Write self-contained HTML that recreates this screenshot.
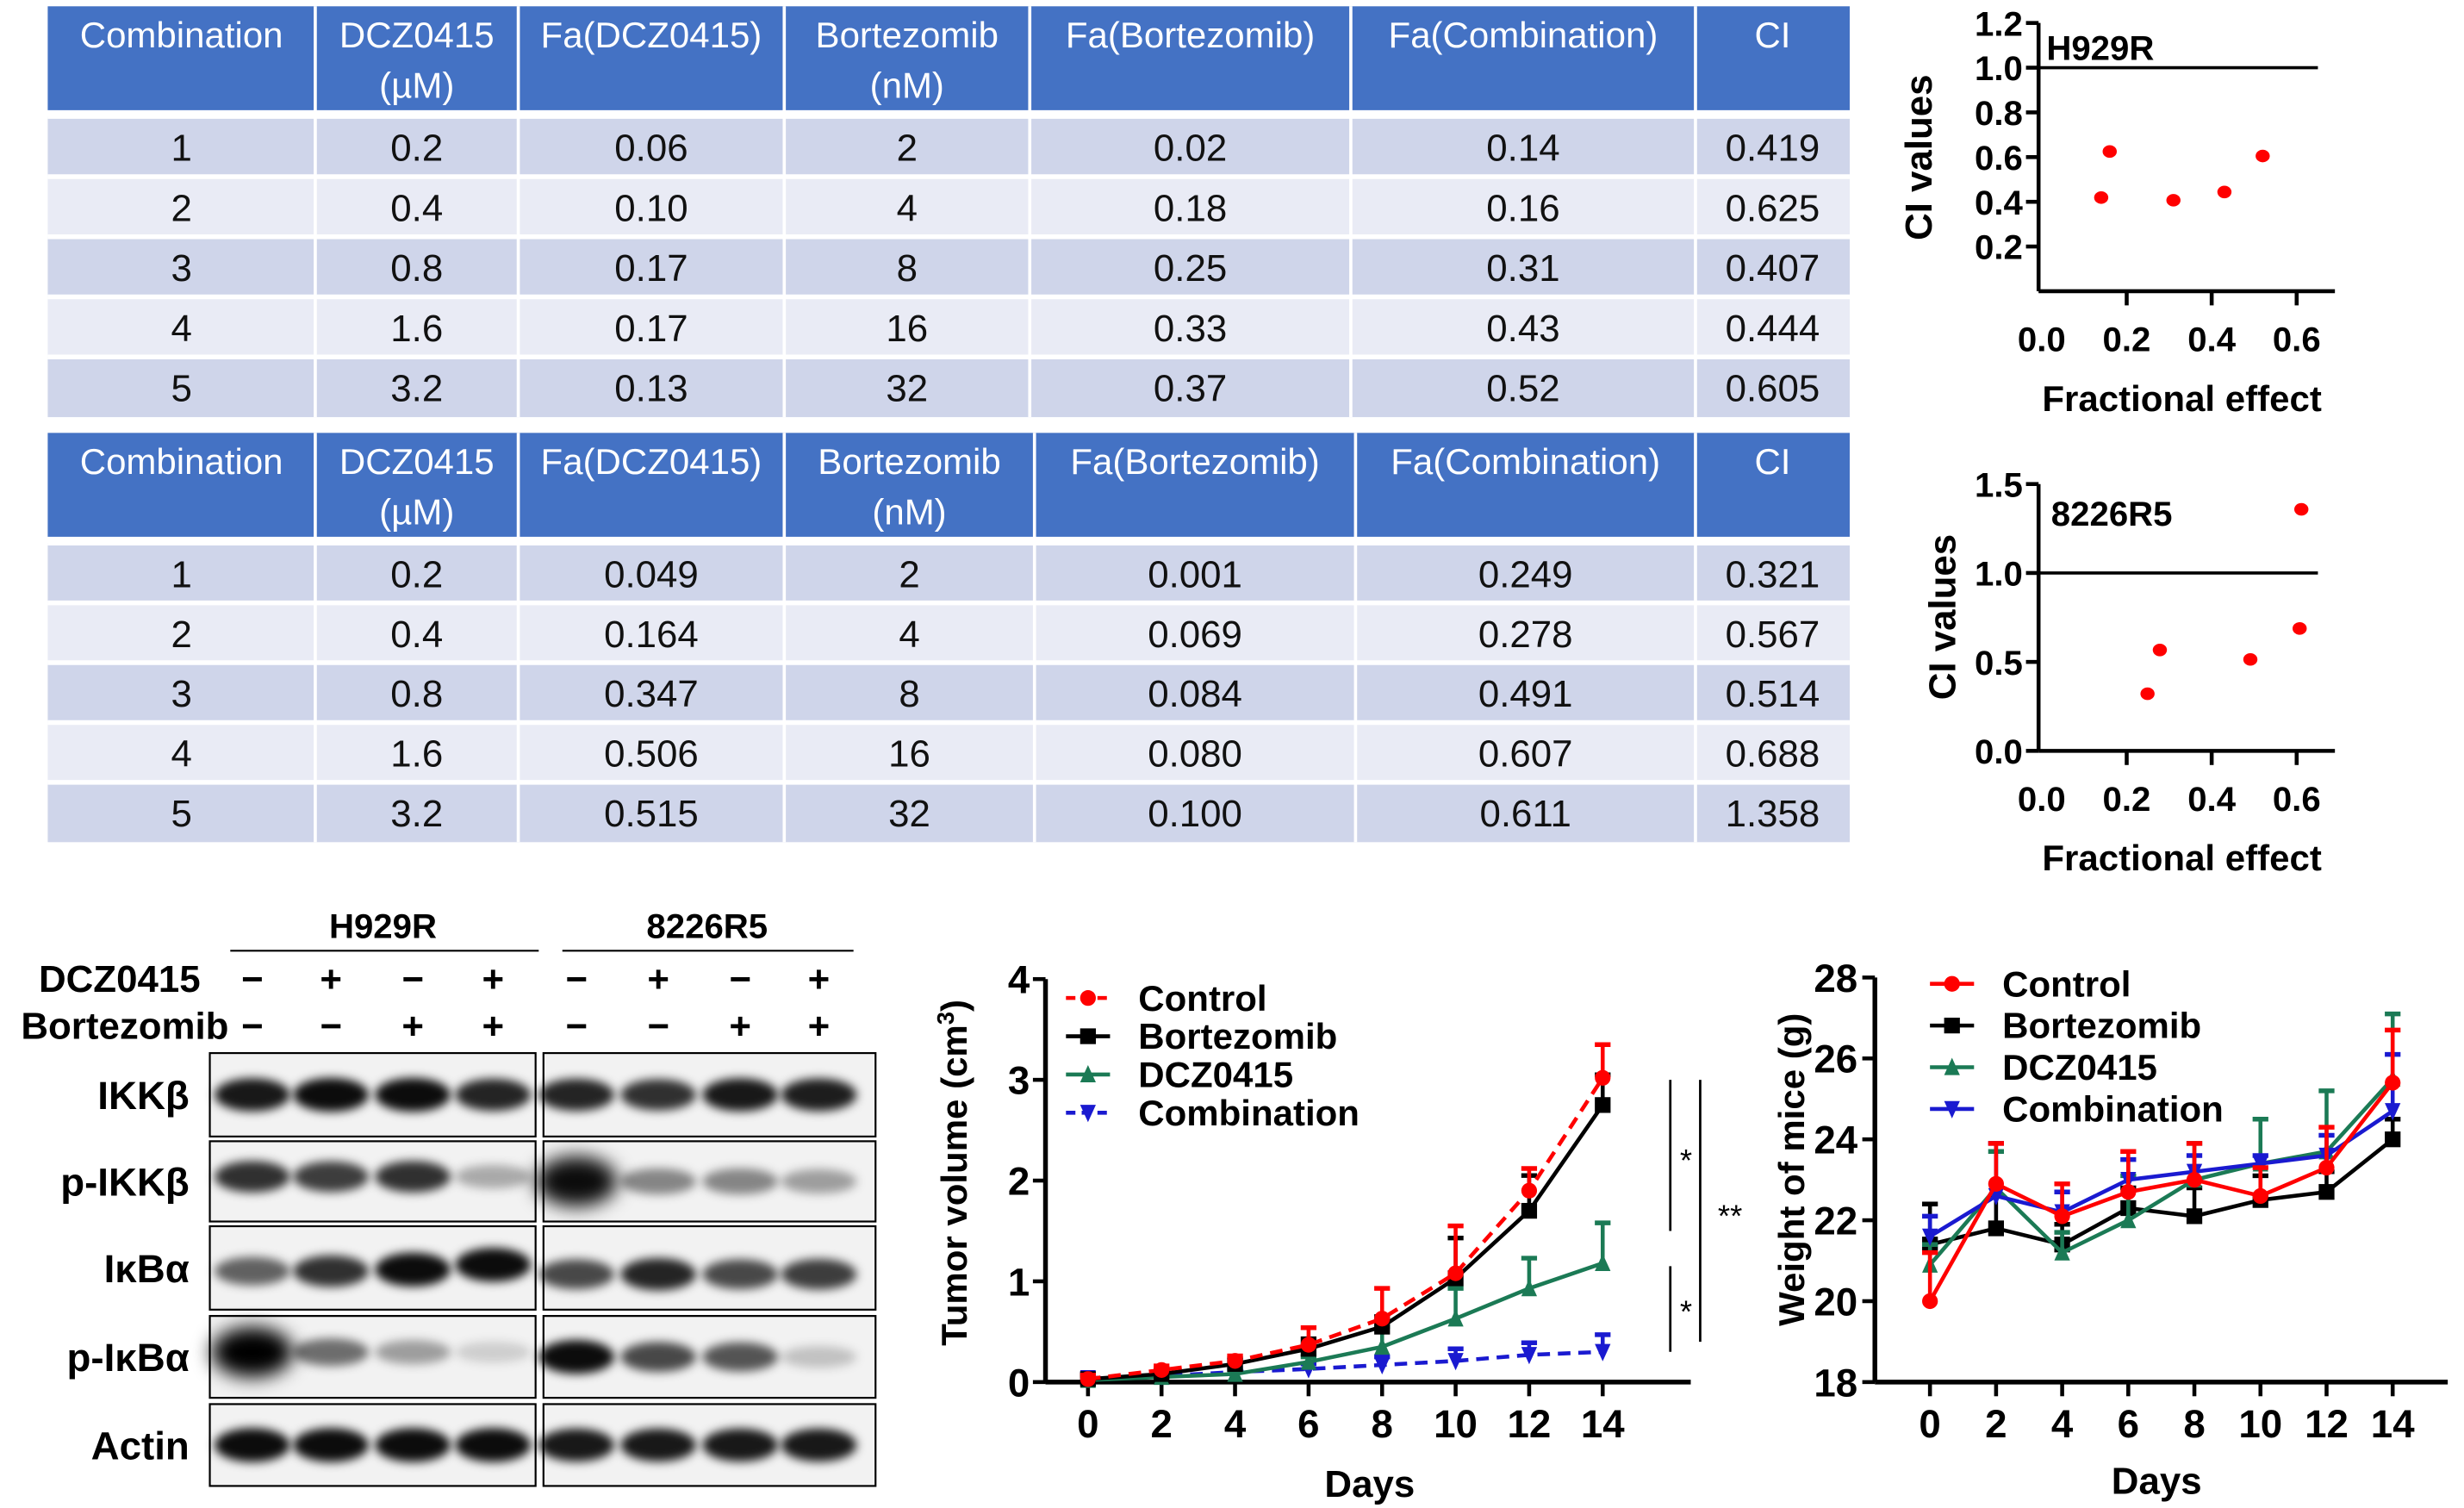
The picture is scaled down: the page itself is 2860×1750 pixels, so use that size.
<!DOCTYPE html>
<html><head><meta charset="utf-8">
<style>
html,body{margin:0;padding:0;background:#fff;}
svg{display:block;}
text{font-family:"Liberation Sans",Arial,sans-serif;}
.n{font-family:"Liberation Sans Narrow","Liberation Sans",Arial,sans-serif;}
</style></head>
<body>
<svg id="fig" xmlns="http://www.w3.org/2000/svg" width="2860" height="1750" viewBox="0 0 1565 958">
<defs>
<filter id="blur" x="-30%" y="-100%" width="160%" height="300%"><feGaussianBlur stdDeviation="3"/></filter>
<filter id="blur2" x="-30%" y="-100%" width="160%" height="300%"><feGaussianBlur stdDeviation="6"/></filter>
</defs>
</svg>
<script>
// ---------- DATA ----------
const t1Headers = [["Combination"],["DCZ0415","(µM)"],["Fa(DCZ0415)"],["Bortezomib","(nM)"],["Fa(Bortezomib)"],["Fa(Combination)"],["CI"]];
const t1Rows = [["1","0.2","0.06","2","0.02","0.14","0.419"],["2","0.4","0.10","4","0.18","0.16","0.625"],["3","0.8","0.17","8","0.25","0.31","0.407"],["4","1.6","0.17","16","0.33","0.43","0.444"],["5","3.2","0.13","32","0.37","0.52","0.605"]];
const t2Rows = [["1","0.2","0.049","2","0.001","0.249","0.321"],["2","0.4","0.164","4","0.069","0.278","0.567"],["3","0.8","0.347","8","0.084","0.491","0.514"],["4","1.6","0.506","16","0.080","0.607","0.688"],["5","3.2","0.515","32","0.100","0.611","1.358"]];
const ciFa1 = [0.14,0.16,0.31,0.43,0.52];
const ciVal1 = [0.419,0.625,0.407,0.444,0.605];
const ciFa2 = [0.249,0.278,0.491,0.607,0.611];
const ciVal2 = [0.321,0.567,0.514,0.688,1.358];
const ciTicks1 = [0.2,0.4,0.6,0.8,1.0,1.2];
const ciTicks2 = [0.0,0.5,1.0,1.5];
const faTicks = [0.0,0.2,0.4,0.6];
const days = [0,2,4,6,8,10,12,14];
const tvControl = [0.03,0.12,0.21,0.37,0.63,1.08,1.90,3.02];
const tvControlErr = [0.04,0.04,0.05,0.17,0.30,0.47,0.22,0.33];
const tvBort = [0.03,0.08,0.18,0.33,0.55,1.03,1.70,2.75];
const tvBortErr = [0.04,0.04,0.04,0.10,0.10,0.40,0.35,0.30];
const tvDcz = [0.02,0.05,0.08,0.20,0.35,0.63,0.93,1.18];
const tvDczErr = [0.04,0.04,0.04,0.05,0.20,0.30,0.30,0.40];
const tvComb = [0.04,0.06,0.10,0.13,0.17,0.21,0.27,0.30];
const tvCombErr = [0.04,0.04,0.04,0.05,0.08,0.12,0.12,0.17];
const tvTicks = [0,1,2,3,4];
const wControl = [20.0,22.9,22.1,22.7,23.0,22.6,23.3,25.4];
const wControlErr = [1.2,1.0,0.8,1.0,0.9,0.7,1.0,1.3];
const wBort = [21.4,21.8,21.4,22.3,22.1,22.5,22.7,24.0];
const wBortErr = [1.0,0.8,0.5,0.5,0.7,0.6,0.5,0.5];
const wDcz = [20.9,22.8,21.2,22.0,23.0,23.4,23.7,25.5];
const wDczErr = [0.5,0.9,0.5,1.1,0.9,1.1,1.5,1.6];
const wComb = [21.6,22.6,22.2,23.0,23.2,23.4,23.6,24.7];
const wCombErr = [0.5,1.3,0.5,0.5,0.4,0.2,0.5,1.4];
const wTicks = [18,20,22,24,26,28];

const NS = "http://www.w3.org/2000/svg";
const svg = document.getElementById('fig');
function mk(parent, tag, attrs, name, inter, txt){
  const e = document.createElementNS(NS, tag);
  for (const k in attrs) e.setAttribute(k, attrs[k]);
  
  
  if (txt !== undefined) e.textContent = txt;
  parent.appendChild(e);
  return e;
}
function g(name){ return mk(svg,'g',{},name,false); }

// ---------- TABLES ----------
function table(name, cols, hTop, hBot, rTop, rBot, rows){
  const G = g(name);
  mk(G,'rect',{x:cols[0],y:hTop,width:cols[cols.length-1]-cols[0],height:hBot-hTop,fill:'#4472c4'},'table-header-bg',false);
  for (let c=0;c<cols.length-1;c++){
    const cx=(cols[c]+cols[c+1])/2;
    t1Headers[c].forEach((line,li)=>{
      mk(G,'text',{x:cx,y:hTop+26+li*32,'text-anchor':'middle','font-size':23,fill:'#fff'},'header-cell',false,line);
    });
  }
  const rh=(rBot-rTop)/rows.length;
  rows.forEach((r,i)=>{
    mk(G,'rect',{x:cols[0],y:rTop+i*rh,width:cols[cols.length-1]-cols[0],height:rh,fill:i%2?'#e9ebf5':'#cfd5ea'},'table-row-bg',false);
    r.forEach((v,c)=>{
      mk(G,'text',{x:(cols[c]+cols[c+1])/2,y:rTop+i*rh+rh/2+9,'text-anchor':'middle','font-size':24,fill:'#111'},'table-cell',false,v);
    });
    mk(G,'line',{x1:cols[0],x2:cols[cols.length-1],y1:rTop+i*rh,y2:rTop+i*rh,stroke:'#fff','stroke-width':3},'row-divider',false);
  });
  for (let c=1;c<cols.length-1;c++) mk(G,'line',{x1:cols[c],x2:cols[c],y1:hTop,y2:rBot,stroke:'#fff','stroke-width':2},'col-divider',false);
}
table('table-h929r',[30,200,329,498,654,858,1077,1175],4,70,74,265,t1Rows);
table('table-8226r5',[30,200,329,498,657,861,1077,1175],275,341,345,535,t2Rows);

// ---------- CI SCATTER ----------
function ciChart(name, title, x0, y0, yUnit, yTop, ticks, fa, ci, xlY, ttlY, tx, ty, yl){
  const G = g(name);
  const X = v => x0 + v/0.2*54;
  const Y = v => y0 - v*yUnit;
  mk(G,'line',{x1:x0-2,x2:x0-2,y1:Y(yTop),y2:y0,stroke:'#000','stroke-width':2.5},'y-axis',false);
  mk(G,'line',{x1:x0-2,x2:X(0.69),y1:y0,y2:y0,stroke:'#000','stroke-width':2.5},'x-axis',false);
  ticks.forEach(t=>{
    mk(G,'line',{x1:x0-10,x2:x0-2,y1:Y(t),y2:Y(t),stroke:'#000','stroke-width':2.5},'y-tick',false);
    mk(G,'text',{x:x0-12,y:Y(t)+8,'text-anchor':'end','font-size':22,'font-weight':'bold'},'y-tick-label',false,t.toFixed(1));
  });
  faTicks.forEach(t=>{
    if(t>0) mk(G,'line',{x1:X(t),x2:X(t),y1:y0,y2:y0+9,stroke:'#000','stroke-width':2.5},'x-tick',false);
    mk(G,'text',{x:X(t),y:y0+38,'text-anchor':'middle','font-size':22,'font-weight':'bold'},'x-tick-label',false,t.toFixed(1));
  });
  mk(G,'line',{x1:x0-2,x2:X(0.65),y1:Y(1),y2:Y(1),stroke:'#000','stroke-width':2},'ci-reference-line',false);
  fa.forEach((f,i)=>{
    mk(G,'ellipse',{cx:X(f),cy:Y(ci[i]),rx:4.5,ry:4,fill:'#f00'},'ci-point',false);
  });
  mk(G,'text',{x:tx,y:ty,'font-size':22,'font-weight':'bold'},'chart-title',false,title);
  mk(G,'text',{x:X(0.33),y:xlY,'text-anchor':'middle','font-size':23,'font-weight':'bold'},'x-axis-title',false,'Fractional effect');
  mk(G,'text',{x:0,y:0,transform:`translate(${yl},${ttlY}) rotate(-90)`,'text-anchor':'middle','font-size':24,'font-weight':'bold',class:'n'},'y-axis-title',false,'CI values');
}
ciChart('ci-chart-h929r','H929R',1297,185,142,1.2,ciTicks1,ciFa1,ciVal1,261,100,1300,38,1227);
ciChart('ci-chart-8226r5','8226R5',1297,477,113,1.5,ciTicks2,ciFa2,ciVal2,553,392,1303,334,1242);

// ---------- WESTERN BLOT ----------
(function(){
  const G = g('western-blot');
  mk(G,'text',{x:243,y:596,'text-anchor':'middle','font-size':22,'font-weight':'bold',class:'n'},'cell-line-label',false,'H929R');
  mk(G,'text',{x:449,y:596,'text-anchor':'middle','font-size':22,'font-weight':'bold',class:'n'},'cell-line-label',false,'8226R5');
  mk(G,'line',{x1:146,x2:342,y1:604,y2:604,stroke:'#000','stroke-width':1.2},'group-line',false);
  mk(G,'line',{x1:357,x2:542,y1:604,y2:604,stroke:'#000','stroke-width':1.2},'group-line',false);
  mk(G,'text',{x:127,y:630,'text-anchor':'end','font-size':24,'font-weight':'bold',class:'n'},'treatment-label',false,'DCZ0415');
  mk(G,'text',{x:145,y:660,'text-anchor':'end','font-size':24,'font-weight':'bold',class:'n'},'treatment-label',false,'Bortezomib');
  const lanes=[160,210,262,313,366,418,470,520];
  const d=['−','+','−','+','−','+','−','+'], b=['−','−','+','+','−','−','+','+'];
  lanes.forEach((x,i)=>{
    mk(G,'text',{x:x,y:630,'text-anchor':'middle','font-size':24,'font-weight':'bold'},'sign',false,d[i]);
    mk(G,'text',{x:x,y:660,'text-anchor':'middle','font-size':24,'font-weight':'bold'},'sign',false,b[i]);
  });
  const rowsB=[['IKKβ',669,722,[0.9,0.95,0.95,0.85,0.85,0.8,0.9,0.88],[0,0,0,0,0,0,0,0]],
    ['p-IKKβ',725,776,[0.8,0.75,0.8,0.3,0.95,0.45,0.45,0.35],[-3,-3,-3,-3,0,0,0,0]],
    ['IκBα',779,832,[0.6,0.8,0.95,0.95,0.7,0.85,0.7,0.75],[2,2,1,-2,4,4,4,4]],
    ['p-IκBα',836,888,[1,0.55,0.35,0.15,0.95,0.7,0.65,0.2],[-3,-3,-3,-3,0,0,0,0]],
    ['Actin',892,944,[0.95,0.95,0.95,0.95,0.9,0.9,0.9,0.9],[0,0,0,0,0,0,0,0]]];
  rowsB.forEach(r=>{
    const [lab,y1,y2,ints,offs]=r;
    mk(G,'text',{x:120,y:(y1+y2)/2+9,'text-anchor':'end','font-size':25,'font-weight':'bold',class:'n'},'protein-label',false,lab);
    [[133,340],[345,556]].forEach((bx,k)=>{
      const P=mk(G,'g',{},'blot-panel',false);
      mk(P,'rect',{x:bx[0],y:y1,width:bx[1]-bx[0],height:y2-y1,fill:'#f2f2f2',stroke:'#000','stroke-width':1.2},'blot-frame',false);
      for(let j=0;j<4;j++){
        const i=k*4+j, a=ints[i];
        const big=(lab==='p-IKKβ'&&i==4)||(lab==='p-IκBα'&&i==0);
        mk(P,'ellipse',{cx:lanes[i],cy:(y1+y2)/2+offs[i],rx:big?26:24,ry:big?16:6+a*5,fill:'#000','fill-opacity':a,filter:big?'url(#blur2)':'url(#blur)'},'band',false);
      }
    });
  });
})();

// ---------- LINE CHARTS ----------
function marker(G,type,x,y,c){
  if(type==='circle') mk(G,'circle',{cx:x,cy:y,r:5,fill:c},'marker',false);
  else if(type==='square') mk(G,'rect',{x:x-5,y:y-5,width:10,height:10,fill:c},'marker',false);
  else if(type==='up') mk(G,'polygon',{points:`${x},${y-6} ${x-5},${y+5} ${x+5},${y+5}`,fill:c},'marker',false);
  else mk(G,'polygon',{points:`${x},${y+6} ${x-5},${y-5} ${x+5},${y-5}`,fill:c},'marker',false);
}
function series(G,X,Y,vals,errs,c,type,dash,name){
  const S=mk(G,'g',{},name,false);
  vals.forEach((v,i)=>{
    const x=X(days[i]);
    mk(S,'line',{x1:x,x2:x,y1:Y(v),y2:Y(v+errs[i]),stroke:c,'stroke-width':2.5},'error-bar',false);
    mk(S,'line',{x1:x-5,x2:x+5,y1:Y(v+errs[i]),y2:Y(v+errs[i]),stroke:c,'stroke-width':3},'error-cap',false);
  });
  const pts=vals.map((v,i)=>X(days[i])+','+Y(v)).join(' ');
  const a={points:pts,fill:'none',stroke:c,'stroke-width':2.5};
  if(dash) a['stroke-dasharray']='8,5';
  mk(S,'polyline',a,'series-line',false);
  vals.forEach((v,i)=>marker(S,type,X(days[i]),Y(v),c));
}
function legend(G,items,x,y0,dy,fs){
  items.forEach((it,i)=>{
    const y=y0+i*dy;
    const a={x1:x-14,x2:x+14,y1:y,y2:y,stroke:it[1],'stroke-width':2.5};
    if(it[3]) a['stroke-dasharray']='6,4';
    mk(G,'line',a,'legend-line',false);
    marker(G,it[2],x,y,it[1]);
    mk(G,'text',{x:x+32,y:y+8,'font-size':fs,'font-weight':'bold',class:'n'},'legend-entry',false,it[0]);
  });
}
const RED='#f00', BLK='#000', GRN='#1b7a55', BLU='#1a1ad0';
(function(){
  const G=g('tumor-volume-chart');
  const X=d=>691+d*23.36, Y=v=>878-v*64;
  mk(G,'line',{x1:664,x2:664,y1:Y(4),y2:878,stroke:'#000','stroke-width':3},'y-axis',false);
  mk(G,'line',{x1:664,x2:1074,y1:878,y2:878,stroke:'#000','stroke-width':3},'x-axis',false);
  tvTicks.forEach(t=>{
    mk(G,'line',{x1:656,x2:664,y1:Y(t),y2:Y(t),stroke:'#000','stroke-width':2.5},'y-tick',false);
    mk(G,'text',{x:654,y:Y(t)+9,'text-anchor':'end','font-size':25,'font-weight':'bold',class:'n'},'y-tick-label',false,t);
  });
  days.forEach(d=>{
    mk(G,'line',{x1:X(d),x2:X(d),y1:878,y2:887,stroke:'#000','stroke-width':2.5},'x-tick',false);
    mk(G,'text',{x:X(d),y:913,'text-anchor':'middle','font-size':25,'font-weight':'bold',class:'n'},'x-tick-label',false,d);
  });
  mk(G,'text',{x:870,y:951,'text-anchor':'middle','font-size':24,'font-weight':'bold',class:'n'},'x-axis-title',false,'Days');
  const yt=mk(G,'text',{transform:'translate(614,745) rotate(-90)','text-anchor':'middle','font-size':23,'font-weight':'bold'},'y-axis-title',false,'Tumor volume (cm');
  mk(yt,'tspan',{'baseline-shift':'super','font-size':15},'superscript',false,'3');
  mk(yt,'tspan',{},'paren',false,')');
  series(G,X,Y,tvComb,tvCombErr,BLU,'down',true,'series-combination');
  series(G,X,Y,tvDcz,tvDczErr,GRN,'up',false,'series-dcz0415');
  series(G,X,Y,tvBort,tvBortErr,BLK,'square',false,'series-bortezomib');
  series(G,X,Y,tvControl,tvControlErr,RED,'circle',true,'series-control');
  legend(G,[['Control',RED,'circle',true],['Bortezomib',BLK,'square',false],['DCZ0415',GRN,'up',false],['Combination',BLU,'down',true]],691,634,24.3,23);
  mk(G,'line',{x1:1061,x2:1061,y1:Y(3.0),y2:Y(1.5),stroke:'#000','stroke-width':1.5},'significance-bar',false);
  mk(G,'line',{x1:1061,x2:1061,y1:Y(1.15),y2:Y(0.3),stroke:'#000','stroke-width':1.5},'significance-bar',false);
  mk(G,'line',{x1:1080,x2:1080,y1:Y(3.0),y2:Y(0.4),stroke:'#000','stroke-width':1.5},'significance-bar',false);
  mk(G,'text',{x:1071,y:Y(2.25)+10,'text-anchor':'middle','font-size':20},'significance-star',false,'*');
  mk(G,'text',{x:1071,y:Y(0.75)+10,'text-anchor':'middle','font-size':20},'significance-star',false,'*');
  mk(G,'text',{x:1099,y:Y(1.7)+10,'text-anchor':'middle','font-size':20},'significance-star',false,'**');
})();
(function(){
  const G=g('mouse-weight-chart');
  const X=d=>1226+d*21, Y=v=>878-(v-18)*25.7;
  mk(G,'line',{x1:1191,x2:1191,y1:Y(28),y2:878,stroke:'#000','stroke-width':3},'y-axis',false);
  mk(G,'line',{x1:1191,x2:1555,y1:878,y2:878,stroke:'#000','stroke-width':3},'x-axis',false);
  wTicks.forEach(t=>{
    mk(G,'line',{x1:1183,x2:1191,y1:Y(t),y2:Y(t),stroke:'#000','stroke-width':2.5},'y-tick',false);
    mk(G,'text',{x:1180,y:Y(t)+9,'text-anchor':'end','font-size':25,'font-weight':'bold',class:'n'},'y-tick-label',false,t);
  });
  days.forEach(d=>{
    mk(G,'line',{x1:X(d),x2:X(d),y1:878,y2:887,stroke:'#000','stroke-width':2.5},'x-tick',false);
    mk(G,'text',{x:X(d),y:913,'text-anchor':'middle','font-size':25,'font-weight':'bold',class:'n'},'x-tick-label',false,d);
  });
  mk(G,'text',{x:1370,y:949,'text-anchor':'middle','font-size':24,'font-weight':'bold',class:'n'},'x-axis-title',false,'Days');
  mk(G,'text',{transform:'translate(1146,743) rotate(-90)','text-anchor':'middle','font-size':23,'font-weight':'bold'},'y-axis-title',false,'Weight of mice (g)');
  series(G,X,Y,wBort,wBortErr,BLK,'square',false,'series-bortezomib');
  series(G,X,Y,wDcz,wDczErr,GRN,'up',false,'series-dcz0415');
  series(G,X,Y,wComb,wCombErr,BLU,'down',false,'series-combination');
  series(G,X,Y,wControl,wControlErr,RED,'circle',false,'series-control');
  legend(G,[['Control',RED,'circle',false],['Bortezomib',BLK,'square',false],['DCZ0415',GRN,'up',false],['Combination',BLU,'down',false]],1240,625,26.5,23);
})();
</script>
</body></html>
